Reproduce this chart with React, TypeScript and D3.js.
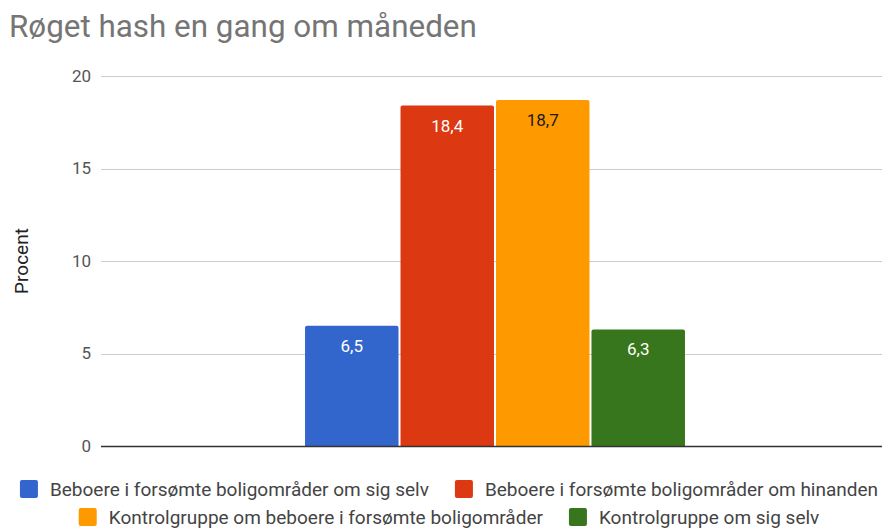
import { useEffect, useRef } from "react";
import * as d3 from "d3";

const title = "Røget hash en gang om måneden";
const yAxisLabel = "Procent";
const category = ["Røget hash en gang om måneden"];
const seriesNames = [
  "Beboere i forsømte boligområder om sig selv",
  "Beboere i forsømte boligområder om hinanden",
  "Kontrolgruppe om beboere i forsømte boligområder",
  "Kontrolgruppe om sig selv",
];
const seriesValues = [6.5, 18.4, 18.7, 6.3];
const seriesColors = ["#3366cc", "#dc3912", "#ff9900", "#38761d"];
const labelColors = ["#ffffff", "#ffffff", "#1a1a1a", "#ffffff"];
const yTicks = [0, 5, 10, 15, 20];
const legendRows = [
  [0, 1],
  [2, 3],
];

const FONT = "Roboto, 'Noto Sans', sans-serif";

export default function App() {
  const ref = useRef<HTMLDivElement>(null);

  useEffect(() => {
    document.body.style.margin = "0";
    const width = 882;
    const height = 529;
    const plot = { left: 101, right: 889, top: 76, bottom: 446 };

    const root = d3.select(ref.current);
    root.selectAll("*").remove();

    const svg = root
      .append("svg")
      .attr("width", width)
      .attr("height", height)
      .style("display", "block")
      .style("font-family", FONT);

    svg.append("rect").attr("width", width).attr("height", height).attr("fill", "#fff");

    const y = d3.scaleLinear().domain([0, 20]).range([plot.bottom, plot.top]);

    const x0 = d3
      .scaleBand<string>()
      .domain(category)
      .range([plot.left, plot.right])
      .paddingInner(0)
      .paddingOuter(0.537);

    const x1 = d3
      .scaleBand<number>()
      .domain(d3.range(seriesValues.length))
      .range([0, x0.bandwidth()])
      .paddingInner(0.021);

    // title
    svg
      .append("text")
      .attr("x", 9)
      .attr("y", 37)
      .attr("font-size", 31.4)
      .attr("fill", "#757575")
      .text(title);

    // gridlines
    svg
      .append("g")
      .selectAll("line")
      .data(yTicks.filter((t) => t !== 0))
      .join("line")
      .attr("x1", plot.left)
      .attr("x2", width)
      .attr("y1", (d) => Math.round(y(d)) + 0.5)
      .attr("y2", (d) => Math.round(y(d)) + 0.5)
      .attr("stroke", "#cccccc")
      .attr("stroke-width", 1);

    // tick labels
    svg
      .append("g")
      .selectAll("text")
      .data(yTicks)
      .join("text")
      .attr("x", 91)
      .attr("y", (d) => y(d))
      .attr("dy", "0.35em")
      .attr("text-anchor", "end")
      .attr("font-size", 17)
      .attr("fill", "#555555")
      .text((d) => String(d));

    // y axis title
    svg
      .append("text")
      .attr("transform", `translate(28,${(plot.top + plot.bottom) / 2}) rotate(-90)`)
      .attr("text-anchor", "middle")
      .attr("font-size", 19)
      .attr("fill", "#222222")
      .text(yAxisLabel);

    // bars
    const g = svg.append("g").attr("transform", `translate(${x0(category[0])},0)`);
    const r = 2;
    g.selectAll("path.bar")
      .data(seriesValues)
      .join("path")
      .attr("class", "bar")
      .attr("fill", (_, i) => seriesColors[i])
      .attr("d", (v, i) => {
        const bx = x1(i)!;
        const bw = x1.bandwidth();
        const top = y(v);
        const bot = y(0);
        return `M${bx},${bot}V${top + r}Q${bx},${top} ${bx + r},${top}H${bx + bw - r}Q${bx + bw},${top} ${bx + bw},${top + r}V${bot}Z`;
      });

    g.selectAll("text.val")
      .data(seriesValues)
      .join("text")
      .attr("class", "val")
      .attr("x", (_, i) => x1(i)! + x1.bandwidth() / 2)
      .attr("y", (v) => y(v) + 26)
      .attr("text-anchor", "middle")
      .attr("font-size", 17)
      .attr("fill", (_, i) => labelColors[i])
      .text((v) => String(v).replace(".", ","));

    // baseline
    svg
      .append("line")
      .attr("x1", plot.left)
      .attr("x2", width)
      .attr("y1", plot.bottom + 0.5)
      .attr("y2", plot.bottom + 0.5)
      .attr("stroke", "#333333")
      .attr("stroke-width", 1.5);

    // legend
    const rowY = [489, 517];
    const sw = 18;
    const swGap = 12;
    const itemGap = 26;
    const centerX = 449;
    legendRows.forEach((row, ri) => {
      const lg = svg.append("g");
      let cx = 0;
      row.forEach((si, k) => {
        const item = lg.append("g").attr("transform", `translate(${cx},0)`);
        item
          .append("rect")
          .attr("x", 0)
          .attr("y", rowY[ri] - sw / 2)
          .attr("width", sw)
          .attr("height", sw)
          .attr("rx", 2)
          .attr("fill", seriesColors[si]);
        const t = item
          .append("text")
          .attr("x", sw + swGap)
          .attr("y", rowY[ri])
          .attr("dy", "0.35em")
          .attr("font-size", 19)
          .attr("fill", "#444444")
          .text(seriesNames[si]);
        const tw = (t.node() as SVGTextElement).getComputedTextLength();
        cx += sw + swGap + tw + (k < row.length - 1 ? itemGap : 0);
      });
      lg.attr("transform", `translate(${centerX - cx / 2},0)`);
    });
  }, []);

  return <div ref={ref} />;
}
